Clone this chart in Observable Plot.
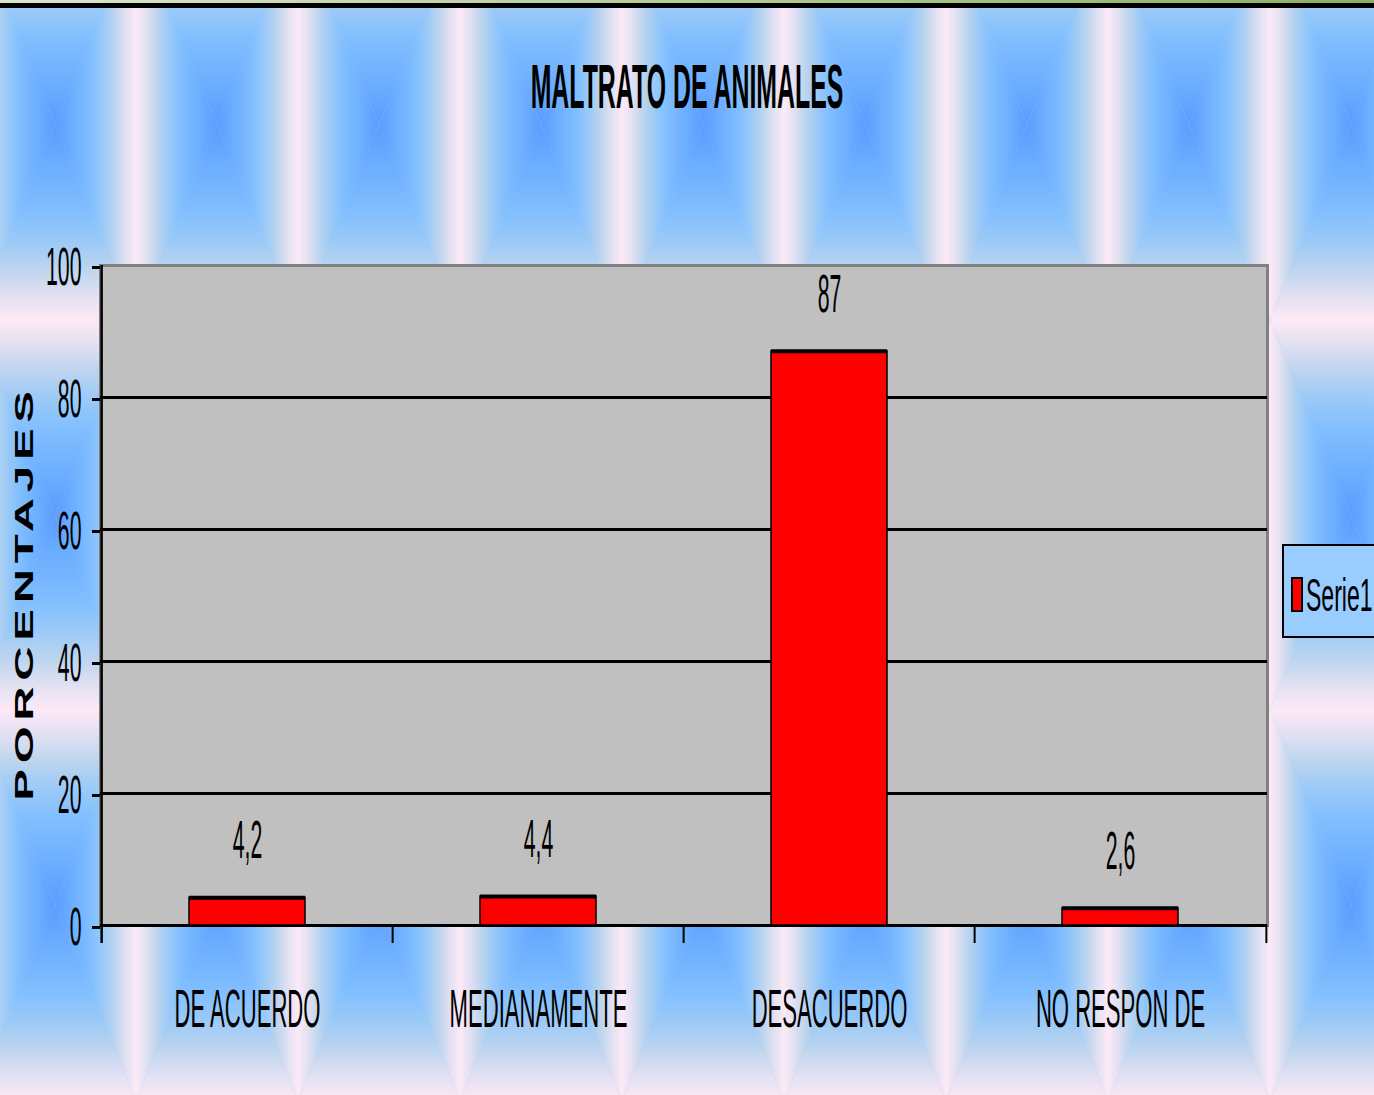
<!DOCTYPE html>
<html><head><meta charset="utf-8">
<script src="https://cdn.jsdelivr.net/npm/d3@7"></script>
<script src="https://cdn.jsdelivr.net/npm/@observablehq/plot@0.6"></script>
<style>
html,body{margin:0;padding:0;overflow:hidden;background:#fff}
#wrap{position:relative;width:1374px;height:1095px;overflow:hidden;font-family:"Liberation Sans",Arial,sans-serif}
#wrap > svg{position:absolute;left:0;top:0}
</style></head><body><div id="wrap"></div>
<script>
// ---- data ----
const categories = ["DE ACUERDO", "MEDIANAMENTE", "DESACUERDO", "NO RESPON DE"];
const values = [4.2, 4.4, 87, 2.6];
const yTicks = [0, 20, 40, 60, 80, 100];
const gridValues = [20, 40, 60, 80];
const seriesName = "Serie1";
const titleText = "MALTRATO DE ANIMALES";
const yLabel = "PORCENTAJES";

const data = categories.map((c, i) => ({category: c, value: values[i]}));
const W = 1374, H = 1095, mL = 100, mR = 107, mT = 265, mB = 170;
const step = (W - mL - mR) / categories.length;
const FONT = "'Liberation Sans', Arial, sans-serif";

const wrap = d3.select("#wrap");

// ---- background texture ----
const bg = wrap.append("svg").attr("width", W).attr("height", H);
const defs = bg.append("defs");
const stops = [[0, "#5c9bff"], [0.2, "#6badff"], [0.45, "#82bfff"], [0.6, "#9ccaf7"], [0.74, "#bdd5ee"], [0.87, "#e0e0f2"], [1, "#fde9f6"]];
function grad(id, x1, y1, x2, y2) {
  const g = defs.append("linearGradient").attr("id", id)
    .attr("x1", x1).attr("y1", y1).attr("x2", x2).attr("y2", y2);
  stops.forEach(([o, c]) => g.append("stop").attr("offset", o).attr("stop-color", c));
}
grad("gl", 1, 0, 0, 0); grad("gr", 0, 0, 1, 0); grad("gt", 0, 1, 0, 0); grad("gb", 0, 0, 0, 1);
const tw = 162, th = 390, cx = tw / 2, cy = th / 2;
const pat = defs.append("pattern").attr("id", "tile").attr("patternUnits", "userSpaceOnUse")
  .attr("x", 55 - cx).attr("y", 125 - cy).attr("width", tw).attr("height", th);
pat.append("rect").attr("width", tw).attr("height", th).attr("fill", "#a6cdf4");
pat.append("polygon").attr("points", `0,0 ${cx},${cy} 0,${th}`).attr("fill", "url(#gl)");
pat.append("polygon").attr("points", `${tw},0 ${cx},${cy} ${tw},${th}`).attr("fill", "url(#gr)");
pat.append("polygon").attr("points", `0,0 ${tw},0 ${cx},${cy}`).attr("fill", "url(#gt)");
pat.append("polygon").attr("points", `0,${th} ${tw},${th} ${cx},${cy}`).attr("fill", "url(#gb)");
bg.append("rect").attr("width", W).attr("height", H).attr("fill", "url(#tile)");
const gg = defs.append("linearGradient").attr("id", "topg").attr("x1", 0).attr("x2", 1).attr("y1", 0).attr("y2", 0);
gg.append("stop").attr("offset", 0).attr("stop-color", "#dbe6cc");
gg.append("stop").attr("offset", 1).attr("stop-color", "#8fae5c");
bg.append("rect").attr("width", W).attr("height", 3).attr("fill", "url(#topg)");
bg.append("rect").attr("y", 3).attr("width", W).attr("height", 5).attr("fill", "#000");

// ---- chart ----
const chart = Plot.plot({
  width: W, height: H,
  marginLeft: mL, marginRight: mR, marginTop: mT, marginBottom: mB,
  style: {background: "transparent", fontFamily: FONT, fontSize: "54.5px", color: "black"},
  x: {domain: categories, paddingInner: 0.6, paddingOuter: 0.3, label: null},
  y: {domain: [0, 100], label: null},
  marks: [
    Plot.frame({fill: "#c0c0c0", stroke: "#808080", strokeWidth: 3}),
    Plot.ruleY(gridValues, {stroke: "black", strokeWidth: 3}),
    Plot.ruleY([0], {stroke: "black", strokeWidth: 3}),
    Plot.ruleX([categories[0]], {x: d => d, dx: -step / 2, stroke: "black", strokeWidth: 2.5, insetBottom: -18}),
    Plot.ruleX(categories.slice(1), {x: d => d, dx: -step / 2, stroke: "black", strokeWidth: 2, insetTop: H - mT - mB, insetBottom: -18}),
    Plot.ruleX([categories[categories.length - 1]], {x: d => d, dx: step / 2, stroke: "black", strokeWidth: 2, insetTop: H - mT - mB, insetBottom: -18}),
    Plot.barY(data, {x: "category", y: "value", fill: "#ff0000", stroke: "black", strokeWidth: 1.5}),
    Plot.tickY(data, {x: "category", y: "value", stroke: "black", strokeWidth: 4}),
    Plot.text(data, {x: "category", y: "value", text: d => String(d.value).replace(".", ","), dy: -57, fontSize: 54.5, fill: "black"}),
    Plot.axisY({ticks: yTicks, tickSize: 8, tickPadding: 11, strokeWidth: 3, fontSize: 54.5, label: null, dy: 2}),
    Plot.axisX({tickSize: 0, tickPadding: 63, fontSize: 54.5, label: null})
  ]
});
d3.select(chart).selectAll("text").each(function () {
  const t = this.getAttribute("transform");
  if (!t) return;
  const isX = this.closest("[aria-label='x-axis tick label']") !== null;
  this.setAttribute("transform", t + (isX ? " scale(0.405,1)" : " scale(0.39,1)"));
});
wrap.node().appendChild(chart);

// ---- title, axis title, legend ----
const ov = wrap.append("svg").attr("width", W).attr("height", H).style("font-family", FONT);
ov.append("text").attr("transform", `translate(${W / 2},108) scale(0.395,1)`)
  .attr("text-anchor", "middle").attr("font-size", 63).attr("font-weight", "bold").text(titleText);
ov.append("text").attr("transform", `translate(33,${(mT + H - mB) / 2 - 2}) rotate(-90) scale(1.9,1)`)
  .attr("text-anchor", "middle").attr("font-size", 25).attr("font-weight", "bold")
  .attr("letter-spacing", 3).text(yLabel);
ov.append("rect").attr("x", 1283).attr("y", 545).attr("width", 120).attr("height", 92)
  .attr("fill", "#99ccff").attr("stroke", "black").attr("stroke-width", 2);
ov.append("rect").attr("x", 1292).attr("y", 578).attr("width", 10).attr("height", 33)
  .attr("fill", "#ff0000").attr("stroke", "black").attr("stroke-width", 2);
ov.append("text").attr("transform", "translate(1306,611) scale(0.49,1)")
  .attr("font-size", 47).text(seriesName);
</script></body></html>
